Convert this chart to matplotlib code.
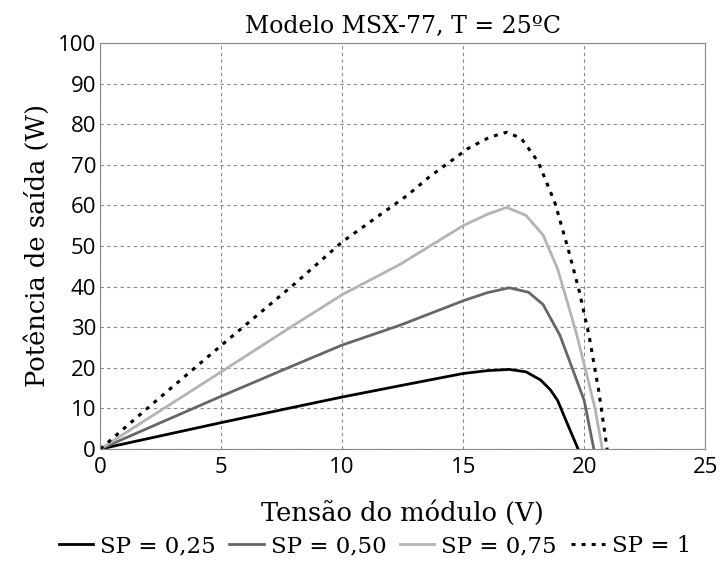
import matplotlib.pyplot as plt

# --- Data ---
v_025 = [0, 2, 5, 8, 10, 12.4, 15, 16.0, 16.9, 17.6, 18.2, 18.6, 18.9, 19.3, 19.75]
p_025 = [0, 2.6, 6.5, 10.3, 12.8, 15.6, 18.6, 19.3, 19.6, 19.0, 17.0, 14.6, 12.0, 6.3, 0]

v_050 = [0, 2, 5, 8, 10, 12.4, 15, 16.0, 16.9, 17.7, 18.3, 19.0, 19.5, 20.0, 20.4]
p_050 = [0, 5.2, 13, 20.6, 25.6, 30.5, 36.5, 38.5, 39.7, 38.6, 35.6, 28.0, 20.0, 12.0, 0]

v_075 = [0, 2, 5, 8, 10, 12.4, 15, 16.0, 16.8, 17.6, 18.3, 18.9, 19.3, 19.7, 20.1, 20.45, 20.75]
p_075 = [0, 7.6, 19, 30.5, 38, 45.5, 55, 57.8, 59.5, 57.5, 52.7, 44.4, 36.3, 28.0, 18.5, 10.0, 0]

v_100 = [0, 2, 5, 8, 10, 12.7, 13.6, 15.2, 16.1, 16.8, 17.4, 18.1, 18.8, 19.35, 19.8, 20.2, 20.6, 20.95]
p_100 = [0, 10.3, 25.5, 40.5, 51, 62.5, 67, 74, 76.8, 78, 76.5, 70.7, 60.5, 49, 38.8, 28, 14.4, 0]

labels = ["SP = 0,25", "SP = 0,50", "SP = 0,75", "SP = 1"]

plt.rcParams["font.family"] = "DejaVu Serif"

fig = plt.figure(figsize=(7.21, 5.72), dpi=100)
ax = fig.add_axes([0.139, 0.215, 0.839, 0.71])

ax.plot(v_025, p_025, color="black", lw=2, label=labels[0])
ax.plot(v_050, p_050, color="#666666", lw=2, label=labels[1])
ax.plot(v_075, p_075, color="#b4b4b4", lw=2, label=labels[2])
ax.plot(v_100, p_100, color="black", lw=2.2, ls=(0, (1.3, 2.0)), label=labels[3])

# --- Formatting ---
ax.set_xlim(0, 25)
ax.set_ylim(0, 100)
ax.set_xticks(range(0, 26, 5))
ax.set_yticks(range(0, 101, 10))
ax.grid(True, ls=(0, (3, 3)), color="#888888", lw=0.8)
for s in ax.spines.values():
    s.set_color("#888888")
ax.tick_params(axis="x", length=0, pad=6)
ax.tick_params(axis="y", length=0, pad=3)
for lab in ax.get_xticklabels() + ax.get_yticklabels():
    lab.set_fontfamily("Open Sans")
    lab.set_fontsize(16)

ax.set_title("Modelo MSX-77, T = 25ºC", fontsize=17, pad=7)
ax.set_xlabel("Tensão do módulo (V)", fontsize=18.5, labelpad=16)
ax.set_ylabel("Potência de saída (W)", fontsize=18.5, labelpad=6)

fig.legend(loc="lower center", bbox_to_anchor=(0.52, -0.01), ncol=4, frameon=False,
           fontsize=16.5, handlelength=1.5, handletextpad=0.3, columnspacing=0.6)

plt.savefig("out.png", dpi=100)
